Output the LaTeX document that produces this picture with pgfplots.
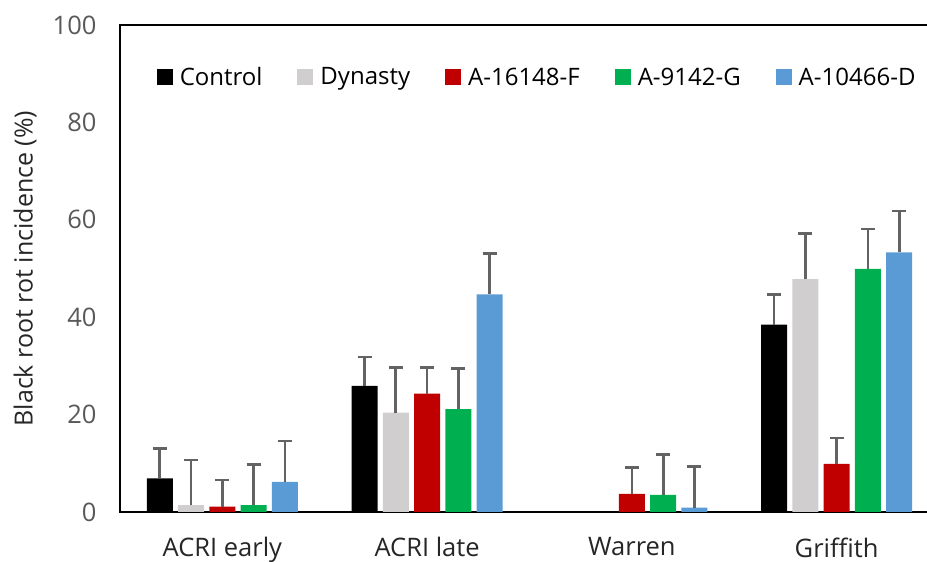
\documentclass[border=0pt]{standalone}
\usepackage{fontspec}
\setmainfont{Open Sans}
\usepackage{pgfplots}
\pgfplotsset{compat=1.18}

\definecolor{cControl}{HTML}{000000}
\definecolor{cDynasty}{HTML}{D0CECE}
\definecolor{cF}{HTML}{C00000}
\definecolor{cG}{HTML}{00B050}
\definecolor{cD}{HTML}{5B9BD5}
\definecolor{errgray}{HTML}{636363}
\definecolor{tickgray}{HTML}{595959}

\begin{document}
\begin{tikzpicture}
\useasboundingbox (0,0) rectangle (927bp,562bp);
\begin{axis}[
  at={(120bp,50bp)}, anchor=south west,
  scale only axis, width=819bp, height=487bp,
  xmin=-0.5, xmax=3.5, ymin=0, ymax=100,
  ybar=5.3bp, bar width=26bp,
  xtick={0,1,2,3},
  xticklabels={ACRI early, ACRI late, Warren, Griffith},
  ytick={0,20,40,60,80,100},
  major tick length=0pt,
  axis line style={line width=2.2bp, black},
  /pgf/number format/assume math mode=true,
  tick label style={font=\fontsize{25.5bp}{30bp}\selectfont},
  yticklabel style={text=tickgray, xshift=-20bp},
  xticklabel style={text=black!85, yshift=-22bp},
  ylabel={Black root rot incidence (\%)},
  ylabel style={font=\fontsize{25bp}{30bp}\selectfont, text=black!85,
    at={(axis description cs:-0.116,0.5)}, anchor=center},
  legend columns=5,
  legend style={draw=none, fill=none,
    at={(rel axis cs:0.041,0.893)}, anchor=west,
    font=\fontsize{24bp}{28bp}\selectfont,
    /tikz/every odd column/.append style={column sep=5bp},
    /tikz/every even column/.append style={column sep=33bp}},
  legend image code/.code={\fill[#1] (0bp,-8bp) rectangle (16bp,8bp);},
  error bars/y dir=plus,
  error bars/y explicit,
  error bars/error bar style={line width=2.7bp, errgray},
  error bars/error mark options={rotate=90, mark size=7bp, line width=2.7bp, errgray},
]
% value, upper error
\addplot[fill=cControl, draw=none] coordinates {
  (0,6.9) +- (0,6.2)
  (1,25.9) +- (0,5.9)
  (3,38.5) +- (0,6.2)
};
\addlegendentry{Control}
\addplot[fill=cDynasty, draw=none] coordinates {
  (0,1.4) +- (0,9.3)
  (1,20.4) +- (0,9.3)
  (3,47.8) +- (0,9.4)
};
\addlegendentry{Dynasty}
\addplot[fill=cF, draw=none] coordinates {
  (0,1.1) +- (0,5.5)
  (1,24.3) +- (0,5.4)
  (2,3.7) +- (0,5.4)
  (3,9.9) +- (0,5.3)
};
\addlegendentry{A-16148-F}
\addplot[fill=cG, draw=none] coordinates {
  (0,1.4) +- (0,8.3)
  (1,21.1) +- (0,8.3)
  (2,3.5) +- (0,8.3)
  (3,49.9) +- (0,8.2)
};
\addlegendentry{A-9142-G}
\addplot[fill=cD, draw=none] coordinates {
  (0,6.2) +- (0,8.4)
  (1,44.7) +- (0,8.4)
  (2,0.9) +- (0,8.5)
  (3,53.3) +- (0,8.5)
};
\addlegendentry{A-10466-D}
\end{axis}
\end{tikzpicture}
\end{document}
